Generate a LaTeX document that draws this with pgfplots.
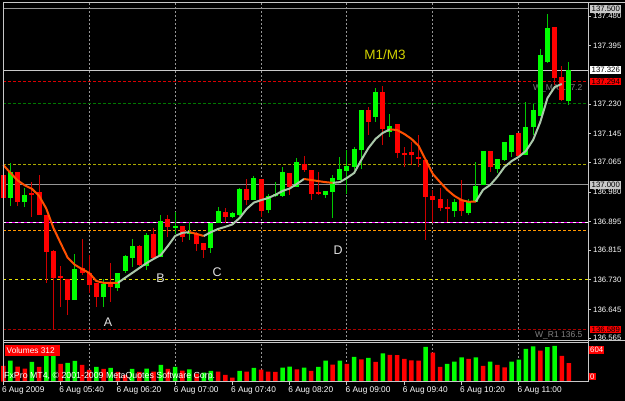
\documentclass[border=0pt]{standalone}
\usepackage{pgfplots}
\pgfplotsset{compat=1.18}
\usepackage{pgfplotstable}
\usepackage{fontspec}
\setmainfont{Liberation Sans}
\definecolor{cgreen}{RGB}{0,255,0}
\definecolor{cgwick}{RGB}{0,200,0}
\definecolor{cred}{RGB}{255,0,0}
\definecolor{crwick}{RGB}{205,0,0}
\definecolor{maor}{RGB}{255,80,0}
\definecolor{magr}{RGB}{170,200,170}
\definecolor{gridc}{RGB}{150,150,150}
\definecolor{framec}{RGB}{200,200,200}
\definecolor{olivec}{RGB}{170,170,0}
\definecolor{yellc}{RGB}{230,230,0}
\definecolor{dgreenc}{RGB}{0,120,0}
\definecolor{orc}{RGB}{255,150,0}
\definecolor{magc}{RGB}{255,0,255}
\definecolor{dredc}{RGB}{170,0,0}
\definecolor{m1c}{RGB}{210,210,0}
\newcommand\pf{\fontsize{7.8bp}{9bp}\selectfont}
\newcommand\tf{\fontsize{8.3bp}{9bp}\selectfont}
\tikzset{
  plab/.style={anchor=west, text=white, font=\pf, inner sep=0pt, xshift=5bp},
  tlab/.style={anchor=north west, text=white, font=\tf, inner sep=0pt, xshift=-1.5bp, yshift=-4.5bp},
  pbox/.style={anchor=west, font=\pf, inner xsep=1.5bp, inner ysep=1bp, xshift=2bp},
}

% candles: i open high low close
\pgfplotstableread{
i o h l c
1 136.963 137.062 136.940 137.037
3 136.952 136.991 136.937 136.972
10 136.673 136.804 136.673 136.761
14 136.682 136.733 136.653 136.719
16 136.707 136.750 136.699 136.750
17 136.756 136.801 136.750 136.798
18 136.793 136.847 136.767 136.827
20 136.770 136.864 136.759 136.858
22 136.795 136.915 136.795 136.898
24 136.878 136.923 136.861 136.884
26 136.861 136.895 136.844 136.866
29 136.821 136.892 136.807 136.892
30 136.892 136.937 136.892 136.926
32 136.909 136.923 136.906 136.920
33 136.915 136.991 136.912 136.989
35 136.957 137.026 136.957 137.020
37 136.929 136.974 136.920 136.969
38 136.969 137.009 136.966 136.974
39 136.969 137.051 136.966 137.037
41 136.994 137.077 136.994 137.065
45 136.972 136.983 136.963 136.983
46 136.980 137.028 136.906 137.020
47 137.014 137.080 137.014 137.045
48 137.040 137.099 136.974 137.054
49 137.051 137.108 137.043 137.102
50 137.099 137.213 137.045 137.213
52 137.193 137.276 137.179 137.264
54 137.151 137.202 137.136 137.168
63 136.926 136.960 136.909 136.952
65 136.920 136.960 136.915 136.955
66 136.952 137.065 136.952 136.997
67 137.000 137.097 137.000 137.097
69 137.045 137.074 137.034 137.074
70 137.071 137.122 137.068 137.122
71 137.094 137.142 137.080 137.142
73 137.085 137.236 137.085 137.165
74 137.165 137.230 137.142 137.213
75 137.196 137.386 137.196 137.369
76 137.349 137.486 137.347 137.446
79 137.239 137.349 137.227 137.326
}\greentab
\pgfplotstableread{
i o h l c
0 137.028 137.037 136.957 136.963
2 137.037 137.037 136.940 136.952
4 136.977 137.009 136.909 136.972
5 136.980 137.028 136.915 136.915
6 136.915 136.915 136.722 136.810
7 136.812 136.815 136.591 136.736
8 136.741 136.770 136.653 136.736
9 136.733 136.733 136.631 136.673
11 136.764 136.847 136.744 136.750
12 136.750 136.801 136.693 136.716
13 136.722 136.722 136.653 136.682
15 136.719 136.778 136.668 136.710
19 136.827 136.830 136.770 136.773
21 136.861 136.878 136.787 136.793
23 136.903 136.915 136.852 136.881
25 136.884 136.884 136.838 136.852
27 136.861 136.866 136.812 136.832
28 136.835 136.835 136.793 136.815
31 136.923 136.935 136.892 136.909
34 136.989 137.017 136.943 136.957
36 137.017 137.017 136.909 136.926
40 137.034 137.034 136.972 136.994
42 137.060 137.082 137.037 137.043
43 137.043 137.043 136.957 136.974
44 136.980 137.037 136.972 136.974
51 137.213 137.222 137.142 137.179
53 137.264 137.281 137.114 137.159
55 137.173 137.173 137.077 137.091
56 137.091 137.108 137.051 137.085
57 137.094 137.122 137.057 137.085
58 137.080 137.142 137.051 137.074
59 137.071 137.071 136.844 136.966
60 136.969 136.986 136.892 136.957
61 136.960 136.991 136.926 136.935
62 136.937 136.960 136.895 136.932
64 136.957 137.014 136.912 136.926
68 137.097 137.097 137.037 137.051
72 137.148 137.148 137.077 137.082
77 137.449 137.449 137.284 137.304
78 137.307 137.338 137.239 137.241
}\redtab
\pgfplotstableread{
i v
1 354
4 332
6 468
7 502
9 315
10 349
13 247
15 230
18 213
20 221
22 281
24 247
26 208
28 153
29 179
33 179
35 230
39 235
40 252
42 235
44 247
45 354
47 354
49 417
51 400
53 480
59 587
62 298
63 337
64 412
66 412
68 337
71 337
72 374
73 553
74 598
76 583
77 604
}\volg
\pgfplotstableread{
i v
0 264
2 255
3 221
5 247
8 298
11 281
12 196
14 213
16 162
17 111
19 162
21 170
23 213
25 184
27 136
30 167
31 111
32 68
34 167
36 204
37 167
38 162
41 208
43 179
46 286
48 298
50 378
52 332
54 451
55 447
56 383
57 361
58 357
60 490
61 247
65 383
67 264
69 281
70 242
75 524
78 434
79 312
}\volr

\begin{document}
\begin{tikzpicture}
\fill[black] (0,0) rectangle (625bp,401bp);

\begin{axis}[at={(3bp,60bp)}, anchor=south west, scale only axis,
  width=585bp, height=339bp,
  xmin=-0.042, xmax=81.662, ymin=136.5567, ymax=137.5198,
  hide axis, clip=false]
% vertical grid
\pgfplotsinvokeforeach{12,24,36,48,60,72}{
  \addplot[gridc, line width=1bp, dash pattern=on 2bp off 2bp] coordinates {(#1,136.5567) (#1,137.5198)};
}
% horizontal levels
\addplot[gridc, line width=1bp] coordinates {(-0.042,137.500) (81.662,137.500)};
\addplot[framec, line width=1bp] coordinates {(-0.042,137.326) (81.662,137.326)};
\addplot[gridc, line width=1bp] coordinates {(-0.042,137.000) (81.662,137.000)};
\addplot[cred!85!black, line width=1bp, dash pattern=on 3bp off 2bp] coordinates {(-0.042,137.294) (81.662,137.294)};
\addplot[dgreenc, line width=0.8bp, dash pattern=on 3bp off 2bp] coordinates {(-0.042,137.233) (81.662,137.233)};
\addplot[olivec, line width=1bp, dash pattern=on 3bp off 2bp] coordinates {(-0.042,137.057) (81.662,137.057)};
\addplot[white, line width=1bp, dash pattern=on 3bp off 3bp] coordinates {(-0.042,136.892) (81.662,136.892)};
\addplot[magc, line width=1bp, dash pattern=on 3bp off 3bp, dash phase=3bp] coordinates {(-0.042,136.892) (81.662,136.892)};
\addplot[orc, line width=1bp, dash pattern=on 3bp off 2bp] coordinates {(-0.042,136.872) (81.662,136.872)};
\addplot[yellc, line width=1bp, dash pattern=on 3bp off 3bp] coordinates {(-0.042,136.730) (81.662,136.730)};
\addplot[dredc, line width=1bp, dash pattern=on 3bp off 2bp] coordinates {(-0.042,136.589) (81.662,136.589)};

% object texts
\node[anchor=west, text=gray, font=\fontsize{8.5bp}{9bp}\selectfont, inner sep=0pt] at (axis cs:73.98,137.2755) {W\_MA 137.2};
\node[anchor=west, text=gray, font=\fontsize{8.5bp}{9bp}\selectfont, inner sep=0pt] at (axis cs:74.26,136.5738) {W\_R1 136.5};
\node[text=m1c, font=\fontsize{13.5bp}{14bp}\selectfont, inner sep=0pt] at (axis cs:53.3,137.3693) {M1/M3};
\node[text=white!88!black, font=\fontsize{12.5bp}{13bp}\selectfont, inner sep=0pt] at (axis cs:14.62,136.6093) {A};
\node[text=white!88!black, font=\fontsize{12.5bp}{13bp}\selectfont, inner sep=0pt] at (axis cs:21.96,136.7343) {B};
\node[text=white!88!black, font=\fontsize{12.5bp}{13bp}\selectfont, inner sep=0pt] at (axis cs:29.85,136.7514) {C};
\node[text=white!88!black, font=\fontsize{12.5bp}{13bp}\selectfont, inner sep=0pt] at (axis cs:46.75,136.8139) {D};

% wicks
\addplot[draw=none, mark=none, error bars/.cd, y dir=plus, y explicit, error mark=none,
  error bar style={draw=cgwick, line width=1bp}]
  table[x=i, y=l, y error plus expr=\thisrow{h}-\thisrow{l}] {\greentab};
\addplot[draw=none, mark=none, error bars/.cd, y dir=plus, y explicit, error mark=none,
  error bar style={draw=crwick, line width=1bp}]
  table[x=i, y=l, y error plus expr=\thisrow{h}-\thisrow{l}] {\redtab};
% bodies
\addplot[draw=none, mark=none, error bars/.cd, y dir=plus, y explicit, error mark=none,
  error bar style={draw=cgreen, line width=5bp}]
  table[x=i, y=o, y error plus expr=\thisrow{c}-\thisrow{o}] {\greentab};
\addplot[draw=none, mark=none, error bars/.cd, y dir=plus, y explicit, error mark=none,
  error bar style={draw=cred, line width=5bp}]
  table[x=i, y=c, y error plus expr=\thisrow{o}-\thisrow{c}] {\redtab};

% moving average, two colours
\addplot[maor, line width=2bp, line join=round] coordinates {(0,137.057) (1,137.034) (2,137.013) (3,136.999) (4,136.989) (5,136.969) (6,136.933) (7,136.878) (8,136.835) (9,136.793) (10,136.773) (11,136.761) (12,136.750) (13,136.727) (14,136.722) (15,136.722) (16,136.722)};
\addplot[magr, line width=2bp, line join=round] coordinates {(16,136.722) (17,136.736) (18,136.750) (19,136.764) (20,136.778) (21,136.790) (22,136.801) (23,136.827) (24,136.855) (25,136.864) (26,136.866)};
\addplot[maor, line width=2bp, line join=round] coordinates {(26,136.866) (27,136.861) (28,136.855)};
\addplot[magr, line width=2bp, line join=round] coordinates {(28,136.855) (29,136.866) (30,136.875) (31,136.881) (32,136.888) (33,136.906) (34,136.932) (35,136.950) (36,136.957) (37,136.963) (38,136.972) (39,136.983) (40,136.990) (41,137.003) (42,137.017)};
\addplot[maor, line width=2bp, line join=round] coordinates {(42,137.017) (43,137.014) (44,137.011) (45,137.008) (46,137.006)};
\addplot[magr, line width=2bp, line join=round] coordinates {(46,137.006) (47,137.008) (48,137.020) (49,137.034) (50,137.071) (51,137.105) (52,137.131) (53,137.148) (54,137.158)};
\addplot[maor, line width=2bp, line join=round] coordinates {(54,137.158) (55,137.156) (56,137.145) (57,137.131) (58,137.111) (59,137.071) (60,137.031) (61,137.008) (62,136.986) (63,136.969) (64,136.957) (65,136.952) (66,136.953)};
\addplot[magr, line width=2bp, line join=round] coordinates {(66,136.953) (67,136.986) (68,137.000) (69,137.023) (70,137.051) (71,137.068) (72,137.080) (73,137.097) (74,137.128) (75,137.179) (76,137.247) (77,137.278) (78,137.287)};

% price scale labels and ticks
\pgfplotsinvokeforeach{137.480,137.395,137.230,137.145,137.065,136.980,136.895,136.815,136.730,136.645,136.565}{
  \node[plab] at (axis cs:81.662,#1) {#1};
  \draw[framec, line width=1bp] (axis cs:81.662,#1) -- ++(3bp,0bp);
}
\node[pbox, fill=framec, text=black] at (axis cs:81.662,137.500) {137.500};
\node[pbox, fill=white, text=black] at (axis cs:81.662,137.326) {137.326};
\node[pbox, fill=cred, text=black] at (axis cs:81.662,137.294) {137.294};
\node[pbox, fill=framec, text=black] at (axis cs:81.662,137.000) {137.000};
\node[pbox, fill=cred, text=black] at (axis cs:81.662,136.589) {136.589};
\end{axis}

\begin{axis}[at={(3bp,19bp)}, anchor=south west, scale only axis,
  width=585bp, height=39bp,
  xmin=-0.042, xmax=81.662, ymin=-8.5, ymax=655,
  hide axis, clip=false]
\pgfplotsinvokeforeach{12,24,36,48,60,72}{
  \addplot[gridc, line width=1bp, dash pattern=on 2bp off 2bp] coordinates {(#1,-8.5) (#1,655)};
}
\addplot[ybar, bar width=4.5bp, bar shift=0pt, fill=cgreen, draw=none] table[x=i, y=v] {\volg};
\addplot[ybar, bar width=4.5bp, bar shift=0pt, fill=cred, draw=none] table[x=i, y=v] {\volr};
% time ticks and labels
\pgfplotsinvokeforeach{0,8,16,24,32,40,48,56,64,72}{
  \draw[framec, line width=1bp] (axis cs:#1,-8.5) -- ++(0bp,-3bp);
}
\node[tlab] at (axis cs:0,-8.5) {6 Aug 2009};
\node[tlab] at (axis cs:8,-8.5) {6 Aug 05:40};
\node[tlab] at (axis cs:16,-8.5) {6 Aug 06:20};
\node[tlab] at (axis cs:24,-8.5) {6 Aug 07:00};
\node[tlab] at (axis cs:32,-8.5) {6 Aug 07:40};
\node[tlab] at (axis cs:40,-8.5) {6 Aug 08:20};
\node[tlab] at (axis cs:48,-8.5) {6 Aug 09:00};
\node[tlab] at (axis cs:56,-8.5) {6 Aug 09:40};
\node[tlab] at (axis cs:64,-8.5) {6 Aug 10:20};
\node[tlab] at (axis cs:72,-8.5) {6 Aug 11:00};
\end{axis}

% frame lines
\draw[framec, line width=1bp] (3bp,398.5bp) -- (625bp,398.5bp);
\draw[framec, line width=1bp] (3.5bp,399bp) -- (3.5bp,19bp);
\draw[framec, line width=1bp] (588bp,399bp) -- (588bp,19bp);
\draw[framec, line width=1bp] (3bp,60.5bp) -- (625bp,60.5bp);
\draw[framec, line width=1bp] (3bp,58bp) -- (588bp,58bp);
\draw[framec, line width=1bp] (3bp,19.5bp) -- (588bp,19.5bp);

% volume pane labels
\fill[cred] (5bp,45bp) rectangle (60bp,55.5bp);
\node[anchor=west, text=white, font=\tf, inner sep=0pt] at (6.5bp,50.2bp) {Volumes 312};
\node[anchor=west, fill=cred, text=white, font=\pf, inner xsep=1bp, inner ysep=1bp] at (589bp,51bp) {604};
\node[anchor=west, fill=cred, text=white, font=\pf, inner xsep=1bp, inner ysep=1bp] at (589bp,24.5bp) {0};
\node[anchor=west, text=white, font=\fontsize{8.8bp}{9bp}\selectfont, inner sep=0pt] at (4bp,24.5bp) {FxPro MT4, \textcopyright{} 2001-2009 MetaQuotes Software Corp.};

\pgfresetboundingbox
\path (0,0) rectangle (625bp,401bp);
\end{tikzpicture}
\end{document}
